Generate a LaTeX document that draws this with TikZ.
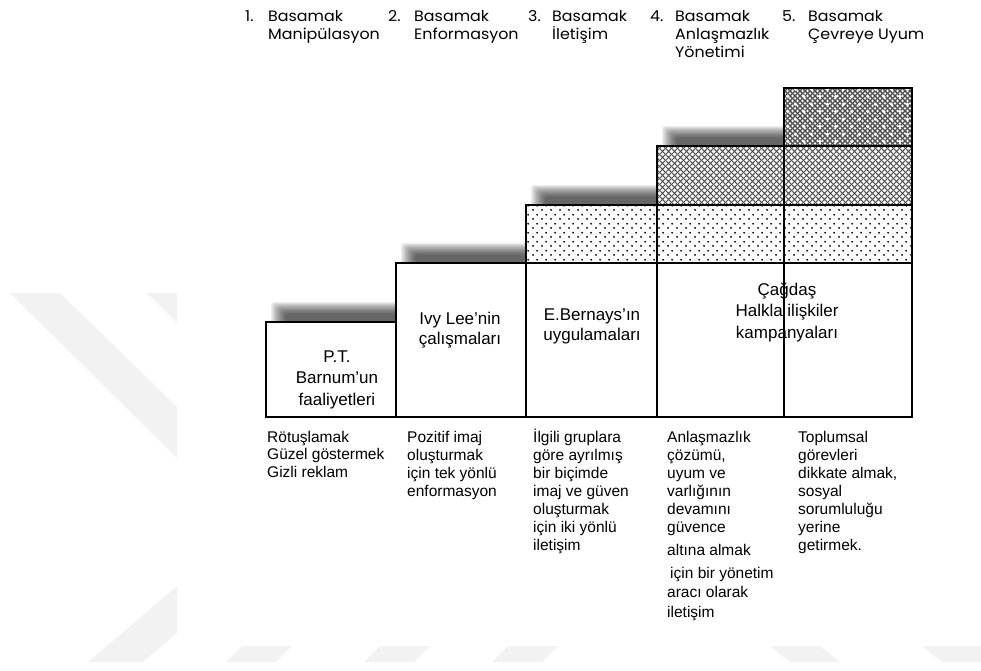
\documentclass[tikz,border=0pt]{standalone}
\usepackage{fontspec}
\setmainfont{Liberation Sans}
\newfontfamily\hdrfont{Poppins}[FakeStretch=1.06]
\usetikzlibrary{patterns.meta}

% light staggered dots
\tikzdeclarepattern{
  name=finedots, type=uncolored,
  bounding box={(0pt,0pt) and (9pt,8.6pt)},
  tile size={(9pt,8.6pt)},
  code={
    \fill (2.25pt,2.15pt) circle (1.1pt);
    \fill (6.75pt,6.45pt) circle (1.1pt);
  }
}
% medium diamond mesh
\tikzdeclarepattern{
  name=diamondmesh, type=uncolored,
  bounding box={(0pt,0pt) and (6pt,6pt)},
  tile size={(6pt,6pt)},
  code={
    \draw[line width=1.2pt] (-1pt,-1pt) -- (7pt,7pt) (-1pt,7pt) -- (7pt,-1pt);
  }
}
% dense dark mesh
\tikzdeclarepattern{
  name=densemesh, type=uncolored,
  bounding box={(0pt,0pt) and (4.5pt,4.5pt)},
  tile size={(4.5pt,4.5pt)},
  code={
    \draw[line width=1.5pt] (-1pt,-1pt) -- (5.5pt,5.5pt) (-1pt,5.5pt) -- (5.5pt,-1pt);
  }
}
% sparse light sparks on the dense mesh
\tikzdeclarepattern{
  name=sparkdots, type=uncolored,
  bounding box={(0pt,0pt) and (16pt,15pt)},
  tile size={(16pt,15pt)},
  code={
    \fill (4pt,3.75pt) circle (1.9pt);
    \fill (12pt,11.25pt) circle (1.9pt);
  }
}

\tikzset{
  hdr/.style={font=\hdrfont\fontsize{15}{18}\selectfont, inner sep=0pt, anchor=base west, align=left},
  boxtxt/.style={font=\fontsize{17}{21.5}\selectfont, inner sep=0pt, anchor=base, align=center},
  note/.style={font=\fontsize{15.5}{18}\selectfont, inner sep=0pt, anchor=base west, align=left},
  frame/.style={draw=black, line width=1.2pt},
  wm/.style={fill=black!5},
  haze/.style={fill=black, opacity=0.07, rounded corners=3pt},
}

\begin{document}
\begin{tikzpicture}[x=1pt,y=-1pt]
\useasboundingbox (0,0) rectangle (981,670);
\fill[white] (0,0) rectangle (981,670);

% faint background marks
\fill[wm] (10,293) -- (60,293) -- (177,407) -- (177,458) -- cycle;
\fill[wm] (147,293) -- (177,293) -- (177,323) -- cycle;
\fill[wm] (88,662) -- (143,662) -- (177,633) -- (177,586) -- cycle;
\fill[wm] (226,662) -- (242,646) -- (292,646) -- (276,662) -- cycle;
\fill[wm] (364,662) -- (380,646) -- (430,646) -- (414,662) -- cycle;
\fill[wm] (492,662) -- (508,646) -- (558,646) -- (542,662) -- cycle;
\fill[wm] (770,646) -- (820,646) -- (840,662) -- (790,662) -- cycle;
\fill[wm] (922,646) -- (981,646) -- (981,662) -- (942,662) -- cycle;

% soft shadows above each step
\foreach \L/\R/\T in {266/396/322, 396/526/263, 526/657/205, 657/784/146}{
  \foreach \i in {0,...,11}{
    \fill[haze] (\L+5+\i*1.3, \T-20+\i*1.05) rectangle (\R+2, \T+2-\i*0.25);
  }
}

% step 1
\fill[white] (266,322) rectangle (396,417);
% step 2
\fill[white] (396,263) rectangle (526,417);
% step 3
\fill[white] (526,205) rectangle (657,417);
\fill[pattern=finedots] (526,205) rectangle (657,263);
% step 4
\fill[white] (657,146) rectangle (784,417);
\fill[pattern=finedots] (657,205) rectangle (784,263);
\fill[pattern=diamondmesh, pattern color=black!68] (657,146) rectangle (784,205);
% step 5
\fill[white] (784,88) rectangle (912,417);
\fill[pattern=finedots] (784,205) rectangle (912,263);
\fill[pattern=diamondmesh, pattern color=black!68] (784,146) rectangle (912,205);
\fill[pattern=densemesh, pattern color=black!70] (784,88) rectangle (912,146);
\fill[pattern=sparkdots, pattern color=white] (784,88) rectangle (912,146);

% outlines
\draw[frame] (266,322) rectangle (396,417);
\draw[frame] (396,263) rectangle (526,417);
\draw[frame] (526,205) rectangle (657,417);
\draw[frame] (526,263) -- (657,263);
\draw[frame] (657,146) rectangle (784,417);
\draw[frame] (657,263) -- (784,263) (657,205) -- (784,205);
\draw[frame] (784,88) rectangle (912,417);
\draw[frame] (784,263) -- (912,263) (784,205) -- (912,205) (784,146) -- (912,146);

% stage headings (anchored on the last line's baseline)
\node[hdr] (n1) at (245,21) {1.};
\node[hdr] (h1) at (268,39) {Basamak\\Manipülasyon};
\node[hdr] (n2) at (388,21) {2.};
\node[hdr] (h2) at (414,39) {Basamak\\Enformasyon};
\node[hdr] (n3) at (528,21) {3.};
\node[hdr] (h3) at (552,39) {Basamak\\İletişim};
\node[hdr] (n4) at (650,21) {4.};
\node[hdr] (h4) at (675,57) {Basamak\\Anlaşmazlık\\Yönetimi};
\node[hdr] (n5) at (782,21) {5.};
\node[hdr] (h5) at (808,39) {Basamak\\Çevreye Uyum};

% labels inside the steps
\node[boxtxt] (t1) at (337,405) {P.T.\\Barnum'un\\faaliyetleri};
\node[boxtxt, font=\fontsize{17}{19.5}\selectfont] (t2) at (460,344) {Ivy Lee'nin\\çalışmaları};
\node[boxtxt, font=\fontsize{17}{19.5}\selectfont] (t3) at (592,340) {E.Bernays'ın\\uygulamaları};
\node[boxtxt] (t4) at (787,338) {Çağdaş\\Halkla ilişkiler\\kampanyaları};

% descriptions under the steps
\node[note, font=\fontsize{15.5}{17.5}\selectfont] (d1) at (267,477) {Rötuşlamak\\Güzel göstermek\\Gizli reklam};
\node[note] (d2) at (407,496) {Pozitif imaj\\oluşturmak\\için tek yönlü\\enformasyon};
\node[note] (d3) at (533,550) {İlgili gruplara\\göre ayrılmış\\bir biçimde\\imaj ve güven\\oluşturmak\\için iki yönlü\\iletişim};
\node[note] (d4) at (667,617) {Anlaşmazlık\\çözümü,\\uyum ve\\varlığının\\devamını\\güvence\\[5pt]altına almak\\[5pt]\hspace{3pt}için bir yönetim\\[1pt]aracı olarak\\[2pt]iletişim};
\node[note] (d5) at (798,550) {Toplumsal\\görevleri\\dikkate almak,\\sosyal\\sorumluluğu\\yerine\\getirmek.};
\end{tikzpicture}
\end{document}
